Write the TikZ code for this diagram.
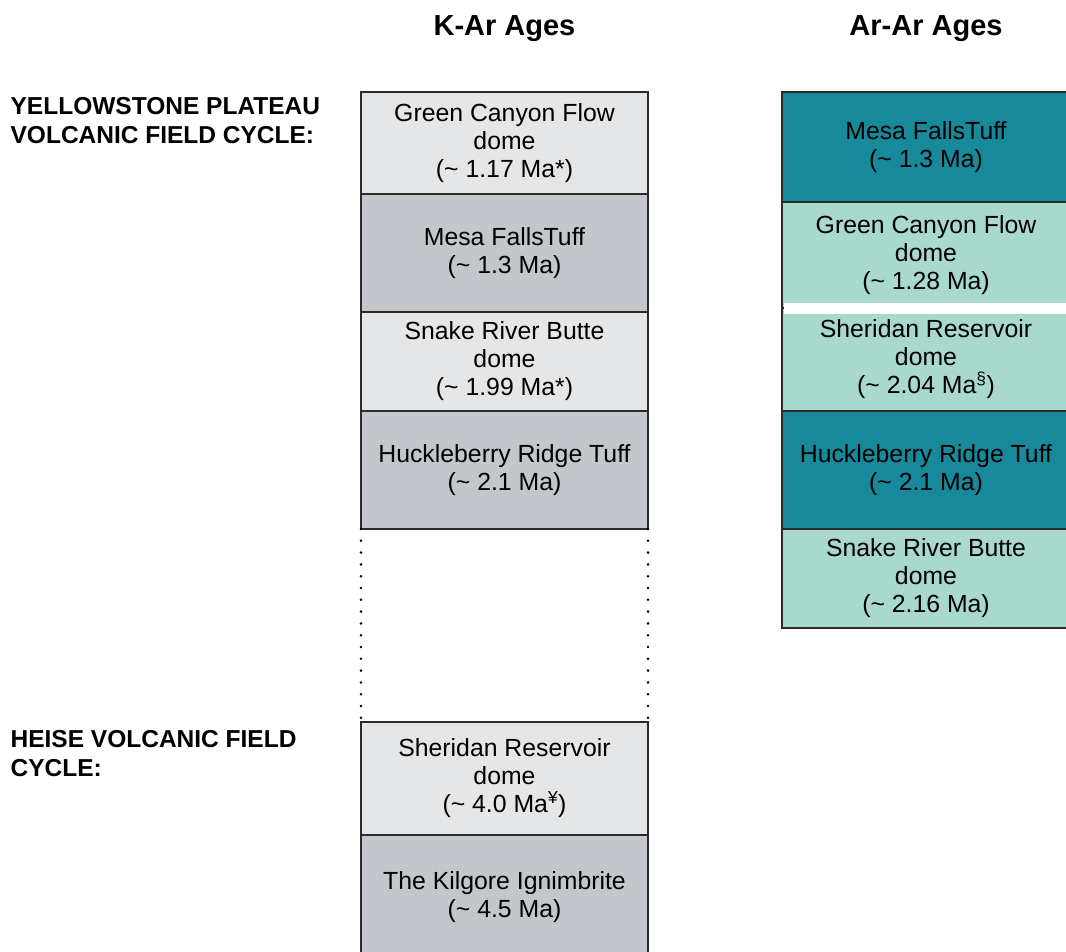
\documentclass[tikz,border=0pt]{standalone}
\usepackage{fontspec}
\setmainfont{Liberation Sans}
\usetikzlibrary{positioning}

\definecolor{kalight}{HTML}{E5E6E8}
\definecolor{kadark}{HTML}{C3C7CC}
\definecolor{arlight}{HTML}{A9D9CD}
\definecolor{ardark}{HTML}{17899B}
\definecolor{edgegray}{HTML}{2B2B2B}

\begin{document}
\begin{tikzpicture}[
    x=1pt, y=-1pt,          % 1px = 1pt, 下向きに y
    line width=1.3pt,
    font=\fontsize{24.8}{28}\selectfont,
    layer/.style={draw=edgegray, rectangle, inner sep=0pt, outer sep=0pt, align=center},
    kplain/.style={layer, fill=kalight, minimum width=287pt},
    kshade/.style={layer, fill=kadark, minimum width=287pt},
    aplain/.style={layer, fill=arlight, minimum width=288pt},
    ashade/.style={layer, fill=ardark, minimum width=288pt},
    head/.style={font=\fontsize{29}{34}\selectfont\bfseries, anchor=base},
    cyclelabel/.style={font=\fontsize{24.5}{28.5}\selectfont\bfseries, align=left, anchor=north west, inner sep=0pt},
    dotline/.style={line width=2.8pt, line cap=round, dash pattern=on 0pt off 11.8pt},
    node distance=0pt
]
    \useasboundingbox (0,0) rectangle (1066,952);

    % --- 見出し ---
    \node [head] (khead) at (504.5,36) {K-Ar Ages};
    \node [head] (ahead) at (926,36) {Ar-Ar Ages};

    % --- 左のラベル ---
    \node [cyclelabel] (ypcycle) at (10,97) {YELLOWSTONE PLATEAU\\VOLCANIC FIELD CYCLE:};
    \node [cyclelabel] (hcycle) at (10,730) {HEISE VOLCANIC FIELD\\CYCLE:};

    % --- K-Ar の列 ---
    \node [kplain, minimum height=102pt, anchor=north west] (k1) at (361,92) {Green Canyon Flow\\dome\\(\textasciitilde{} 1.17 Ma*)};
    \node [kshade, minimum height=118pt, below=of k1] (k2) {Mesa FallsTuff\\(\textasciitilde{} 1.3 Ma)};
    \node [kplain, minimum height=99pt, below=of k2] (k3) {Snake River Butte\\dome\\(\textasciitilde{} 1.99 Ma*)};
    \node [kshade, minimum height=118pt, below=of k3] (k4) {Huckleberry Ridge Tuff\\(\textasciitilde{} 2.1 Ma)};

    % 空白の区間（点線）の下に Heise の層
    \node [kplain, minimum height=113pt, below=193pt of k4] (k5) {Sheridan Reservoir\\dome\\(\textasciitilde{} 4.0 Ma\textsuperscript{¥})};
    \node [kshade, minimum height=125pt, below=of k5] (k6) {The Kilgore Ignimbrite\\(\textasciitilde{} 4.5 Ma)};

    \draw [dotline] (k4.south west) -- (k5.north west);
    \draw [dotline] (k4.south east) -- (k5.north east);

    % --- Ar-Ar の列 ---
    \node [ashade, minimum height=110pt, anchor=north west] (a1) at (782,92) {Mesa FallsTuff\\(\textasciitilde{} 1.3 Ma)};
    \node [aplain, minimum height=106pt, below=of a1] (a2) {Green Canyon Flow\\dome\\(\textasciitilde{} 1.28 Ma)};
    \node [aplain, minimum height=103pt, below=of a2] (a3) {Sheridan Reservoir\\dome\\(\textasciitilde{} 2.04 Ma\textsuperscript{§})};
    \node [ashade, minimum height=118pt, below=of a3] (a4) {Huckleberry Ridge Tuff\\(\textasciitilde{} 2.1 Ma)};
    \node [aplain, minimum height=99pt, below=of a4] (a5) {Snake River Butte\\dome\\(\textasciitilde{} 2.16 Ma)};

    % a2 と a3 の間の白いすき間
    \node [fill=white, inner sep=0pt, minimum width=290pt, minimum height=11pt, anchor=west] (gap) at (a2.south west) [xshift=1.5pt] {};

\end{tikzpicture}
\end{document}
